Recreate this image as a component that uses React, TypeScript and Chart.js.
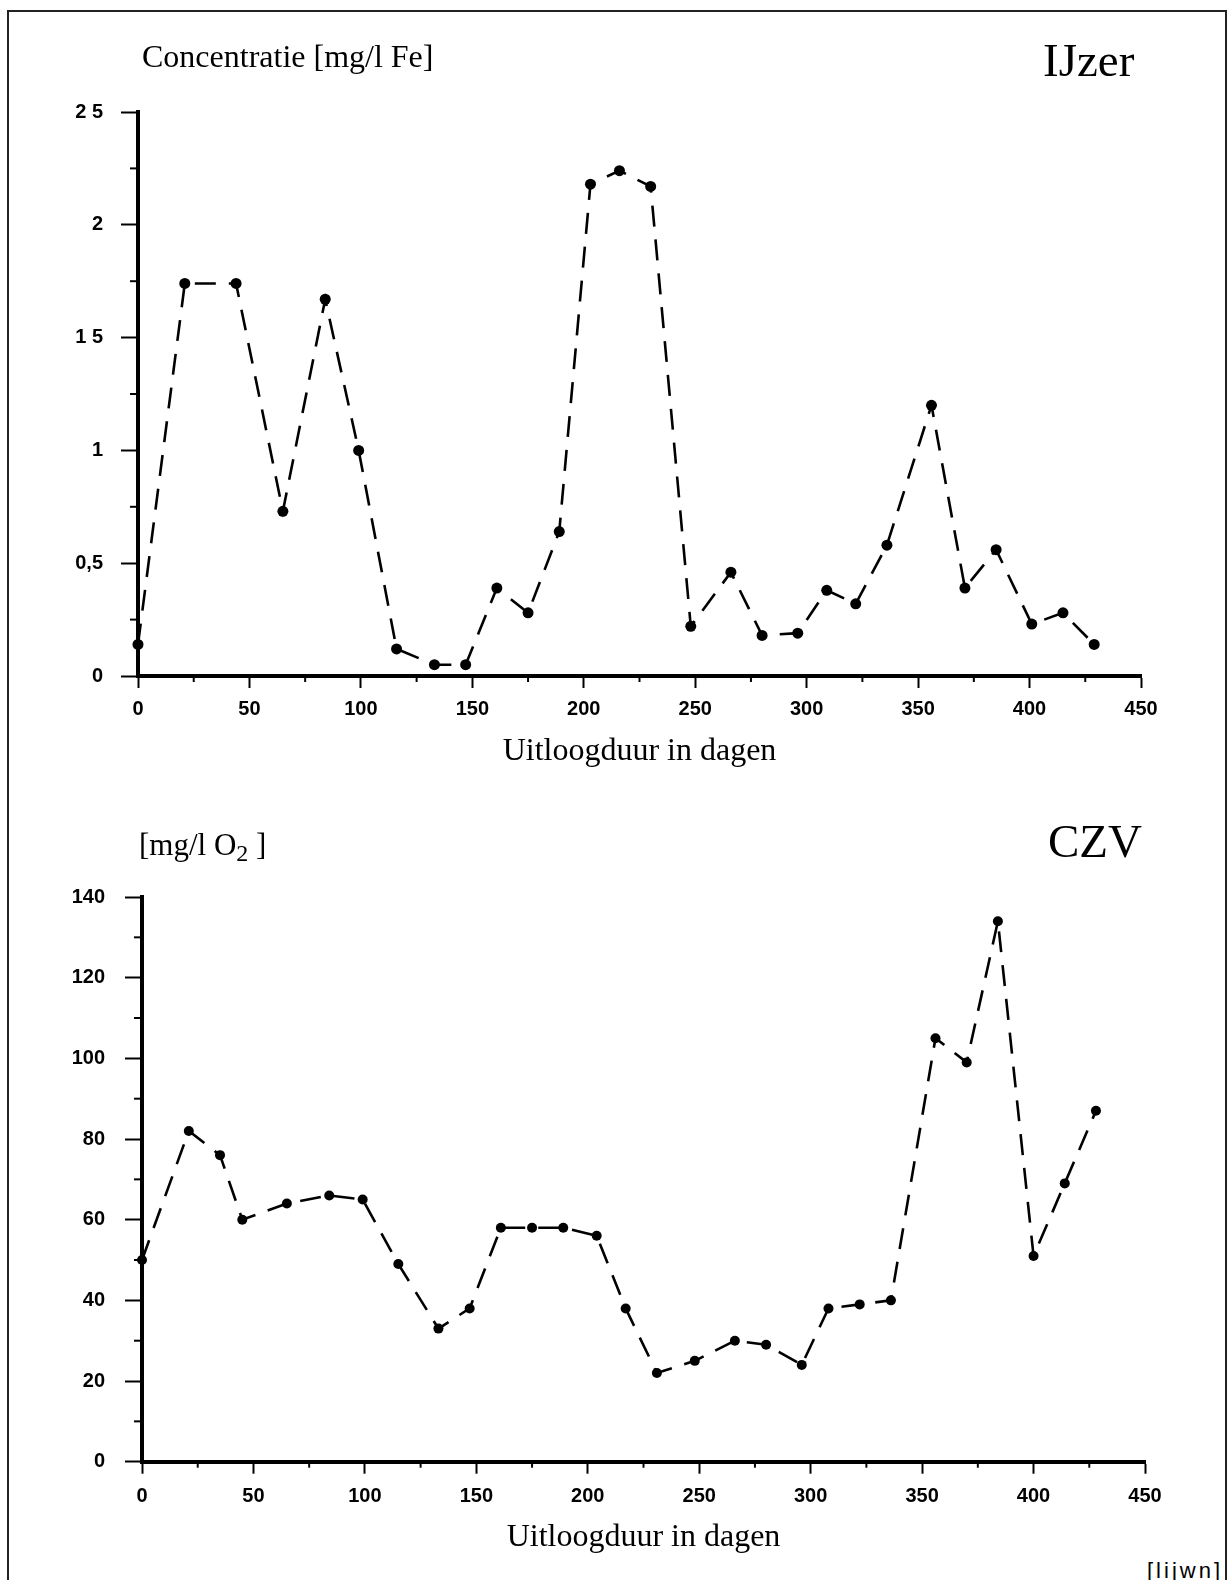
import React, { useEffect, useRef } from 'react';
import { Chart, registerables } from 'chart.js';

Chart.register(...registerables);

// ---------- data ----------
const xMajorTicks = [0, 50, 100, 150, 200, 250, 300, 350, 400, 450];
const xMinorTicks = [25, 75, 125, 175, 225, 275, 325, 375, 425];

const feDays = [0, 21, 44, 65, 84, 99, 116, 133, 147, 161, 175, 189, 203, 216, 230, 248, 266, 280, 296, 309, 322, 336, 356, 371, 385, 401, 415, 429];
const feValues = [0.14, 1.74, 1.74, 0.73, 1.67, 1.0, 0.12, 0.05, 0.05, 0.39, 0.28, 0.64, 2.18, 2.24, 2.17, 0.22, 0.46, 0.18, 0.19, 0.38, 0.32, 0.58, 1.2, 0.39, 0.56, 0.23, 0.28, 0.14];
const feTickLabels = ['0', '0,5', '1', '1 5', '2', '2 5'];
const feMinorTicks = [0.25, 0.75, 1.25, 1.75, 2.25];

const czvDays = [0, 21, 35, 45, 65, 84, 99, 115, 133, 147, 161, 175, 189, 204, 217, 231, 248, 266, 280, 296, 308, 322, 336, 356, 370, 384, 400, 414, 428];
const czvValues = [50, 82, 76, 60, 64, 66, 65, 49, 33, 38, 58, 58, 58, 56, 38, 22, 25, 30, 29, 24, 38, 39, 40, 105, 99, 134, 51, 69, 87];
const czvTickLabels = ['0', '20', '40', '60', '80', '100', '120', '140'];
const czvMinorTicks = [10, 30, 50, 70, 90, 110, 130];

const xAxisTitle = 'Uitloogduur in dagen';

// ---------- plugin: minor ticks drawn through the scales ----------
const minorTicksPlugin = {
  id: 'minorTicks',
  beforeDatasetsDraw(chart: any, _args: any, opts: any) {
    const { ctx, chartArea, scales } = chart;
    ctx.save();
    ctx.strokeStyle = '#000';
    ctx.lineWidth = opts.width || 2;
    (opts.x || []).forEach((v: number) => {
      const px = scales.x.getPixelForValue(v);
      ctx.beginPath();
      ctx.moveTo(px, chartArea.bottom);
      ctx.lineTo(px, chartArea.bottom + opts.xLen);
      ctx.stroke();
    });
    (opts.y || []).forEach((v: number) => {
      const py = scales.y.getPixelForValue(v);
      ctx.beginPath();
      ctx.moveTo(chartArea.left, py);
      ctx.lineTo(chartArea.left - opts.yLen, py);
      ctx.stroke();
    });
    ctx.restore();
  },
};

type Params = {
  days: number[];
  values: number[];
  yMax: number;
  yStep: number;
  yLabels: string[];
  yMinor: number[];
  left: number;
  padRight: number;
  padTop: number;
  xHeight: number;
  xPad: number;
  yPad: number;
  pointRadius: number;
};

const tickFont = { family: '"Liberation Sans", Arial, sans-serif', size: 20, weight: 'bold' };

function makeConfig(p: Params): any {
  return {
    type: 'line',
    data: {
      datasets: [
        {
          data: p.days.map((d, i) => ({ x: d, y: p.values[i] })),
          borderColor: '#000',
          borderWidth: 2.6,
          borderDash: [21, 13],
          pointRadius: p.pointRadius,
          pointBackgroundColor: '#000',
          pointBorderColor: '#000',
          pointBorderWidth: 0,
          tension: 0,
          fill: false,
          clip: false,
        },
      ],
    },
    options: {
      responsive: false,
      maintainAspectRatio: false,
      animation: false,
      events: [],
      layout: { padding: { left: 0, right: p.padRight, top: p.padTop, bottom: 0 } },
      plugins: {
        legend: { display: false },
        tooltip: { enabled: false },
        minorTicks: { x: xMinorTicks, y: p.yMinor, xLen: 6, yLen: 8, width: 2 },
      },
      scales: {
        x: {
          type: 'linear',
          min: 0,
          max: 450,
          afterFit: (s: any) => {
            s.height = p.xHeight;
          },
          afterBuildTicks: (s: any) => {
            s.ticks = xMajorTicks.map((v) => ({ value: v }));
          },
          ticks: {
            color: '#000',
            font: tickFont,
            padding: p.xPad,
            maxRotation: 0,
            autoSkip: false,
          },
          grid: {
            display: true,
            drawOnChartArea: false,
            drawTicks: true,
            tickLength: 12,
            tickWidth: 2,
            color: '#000',
          },
          border: { display: true, color: '#000', width: 4 },
          title: {
            display: true,
            text: xAxisTitle,
            color: '#000',
            font: { family: '"Liberation Serif", "Times New Roman", serif', size: 32, weight: 'normal' },
            padding: { top: 0, bottom: 0 },
          },
        },
        y: {
          type: 'linear',
          min: 0,
          max: p.yMax,
          afterFit: (s: any) => {
            s.width = p.left;
          },
          ticks: {
            stepSize: p.yStep,
            color: '#000',
            font: tickFont,
            padding: p.yPad,
            callback: (_v: any, i: number) => p.yLabels[i],
          },
          grid: {
            display: true,
            drawOnChartArea: false,
            drawTicks: true,
            tickLength: 17,
            tickWidth: 2,
            color: '#000',
          },
          border: { display: true, color: '#000', width: 4 },
        },
      },
    },
    plugins: [minorTicksPlugin],
  };
}

function ChartCanvas({ params, width, height, top }: { params: Params; width: number; height: number; top: number }) {
  const ref = useRef<HTMLCanvasElement | null>(null);
  useEffect(() => {
    if (!ref.current) return;
    const chart = new Chart(ref.current, makeConfig(params));
    return () => chart.destroy();
  }, []);
  return (
    <canvas
      ref={ref}
      width={width}
      height={height}
      style={{ position: 'absolute', left: 0, top, width, height }}
    />
  );
}

const serif = '"Liberation Serif", "Times New Roman", serif';

export default function App() {
  const feParams: Params = {
    days: feDays,
    values: feValues,
    yMax: 2.5,
    yStep: 0.5,
    yLabels: feTickLabels,
    yMinor: feMinorTicks,
    left: 138,
    padRight: 1231 - 1141,
    padTop: 112,
    xHeight: 95,
    xPad: 9,
    yPad: 18,
    pointRadius: 5.5,
  };
  const czvParams: Params = {
    days: czvDays,
    values: czvValues,
    yMax: 140,
    yStep: 20,
    yLabels: czvTickLabels,
    yMinor: czvMinorTicks,
    left: 142,
    padRight: 1231 - 1145,
    padTop: 117,
    xHeight: 95.3,
    xPad: 11,
    yPad: 20,
    pointRadius: 5,
  };
  return (
    <div
      style={{
        position: 'absolute',
        left: 0,
        top: 0,
        width: 1231,
        height: 1580,
        background: '#fff',
        overflow: 'hidden',
      }}
    >
      <div
        style={{
          position: 'absolute',
          left: 7,
          top: 10,
          width: 1216,
          height: 1600,
          borderTop: '2px solid #222',
          borderLeft: '2px solid #222',
          borderRight: '2px solid #222',
        }}
      />
      <ChartCanvas params={feParams} width={1231} height={771} top={0} />
      <ChartCanvas params={czvParams} width={1231} height={777} top={780} />
      <div style={{ position: 'absolute', left: 142, top: 40, fontFamily: serif, fontSize: 32, lineHeight: 1, color: '#000', whiteSpace: 'nowrap' }}>
        Concentratie [mg/l Fe]
      </div>
      <div style={{ position: 'absolute', left: 1043, top: 37, fontFamily: serif, fontSize: 47, lineHeight: 1, color: '#000', whiteSpace: 'nowrap' }}>
        IJzer
      </div>
      <div style={{ position: 'absolute', left: 139, top: 829, fontFamily: serif, fontSize: 31, lineHeight: 1, color: '#000', whiteSpace: 'nowrap' }}>
        [mg/l O<sub style={{ fontSize: 24, verticalAlign: -6, lineHeight: 1 }}>2</sub> ]
      </div>
      <div style={{ position: 'absolute', left: 1048, top: 818, fontFamily: serif, fontSize: 47, lineHeight: 1, color: '#000', whiteSpace: 'nowrap' }}>
        CZV
      </div>
      <div
        style={{
          position: 'absolute',
          left: 1147,
          top: 1560,
          fontFamily: '"Liberation Sans Narrow", "Liberation Sans", sans-serif',
          fontSize: 22,
          lineHeight: 1,
          letterSpacing: 3,
          color: '#000',
          whiteSpace: 'nowrap',
        }}
      >
        [lijwn]
      </div>
    </div>
  );
}
